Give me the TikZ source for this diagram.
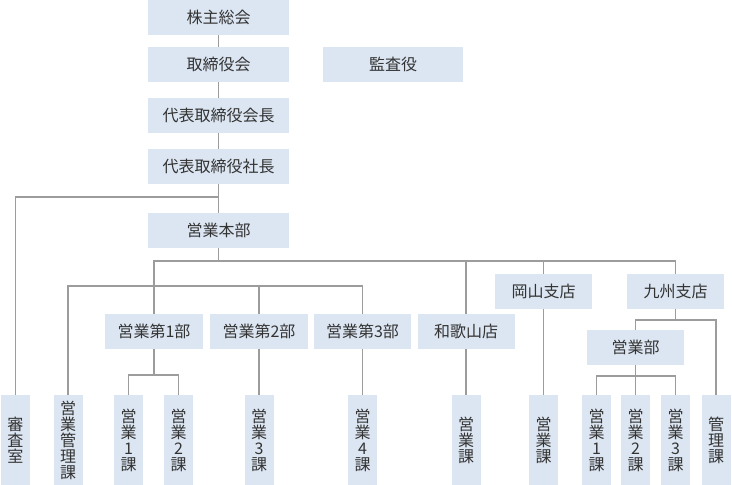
\documentclass[tikz,border=0pt]{standalone}
\usepackage{fontspec}
\setmainfont{Noto Sans CJK JP}
\definecolor{boxfill}{HTML}{DCE6F2}
\definecolor{linegray}{HTML}{9C9C9C}
\definecolor{txt}{HTML}{333333}
\begin{document}
\begin{tikzpicture}[x=1pt,y=-1pt,
  box/.style={fill=boxfill,inner sep=0pt,text=txt,font=\fontsize{16}{16}\selectfont,align=center},
  hbox/.style={box,minimum width=#1,minimum height=35pt},
  vbox/.style={box,minimum width=29pt,minimum height=90pt,font=\fontsize{16}{16}\selectfont},
  conn/.style={draw=linegray,line width=1.1pt}]
\useasboundingbox (0,0) rectangle (732,485);
% top column
\node[hbox=141pt] (kabu) at (218.5,17.5) {株主総会};
\node[hbox=141pt] (tori) at (218.5,64.5) {取締役会};
\node[hbox=140pt] (kansa) at (393,64.5) {監査役};
\node[hbox=141pt] (kaicho) at (218.5,115.5) {代表取締役会長};
\node[hbox=141pt] (shacho) at (218.5,166.5) {代表取締役社長};
\node[hbox=141pt] (honbu) at (218.5,230.5) {営業本部};
% middle
\node[hbox=98pt] (eig1) at (154,331.5) {営業第1部};
\node[hbox=98pt] (eig2) at (259,331.5) {営業第2部};
\node[hbox=97pt] (eig3) at (362.5,331.5) {営業第3部};
\node[hbox=97pt] (waka) at (466,331.5) {和歌山店};
\node[hbox=97pt] (oka) at (543.5,291.5) {岡山支店};
\node[hbox=97pt] (kyu) at (675.5,291.5) {九州支店};
\node[hbox=97pt] (kbu) at (635.5,347.5) {営業部};
% bottom
\node[vbox] (shinsa) at (15.5,440) {審\\査\\室};
\node[vbox] (kanri1) at (68,440) {営\\業\\管\\理\\課};
\node[vbox] (a1) at (128.5,440) {営\\業\\1\\課};
\node[vbox] (a2) at (178.5,440) {営\\業\\2\\課};
\node[vbox] (a3) at (259,440) {営\\業\\3\\課};
\node[vbox] (a4) at (362.5,440) {営\\業\\4\\課};
\node[vbox] (wk) at (466,440) {営\\業\\課};
\node[vbox] (ok) at (543.5,440) {営\\業\\課};
\node[vbox] (q1) at (596.5,440) {営\\業\\1\\課};
\node[vbox] (q2) at (635.5,440) {営\\業\\2\\課};
\node[vbox] (q3) at (675.5,440) {営\\業\\3\\課};
\node[vbox] (qk) at (716,440) {管\\理\\課};
% junction coordinates
\coordinate (j1) at (218.5,197);
\coordinate (bus) at (218.5,261);
\coordinate (sub) at (154,286);
\coordinate (ja) at (154,375);
\coordinate (jk) at (675.5,320);
\coordinate (jb) at (635.5,376);
% connectors
\draw[conn] (kabu) -- (tori);
\draw[conn] (tori) -- (kaicho);
\draw[conn] (kaicho) -- (shacho);
\draw[conn] (shacho) -- (honbu);
\draw[conn] (j1) -| (shinsa.north);
\draw[conn] (honbu.south) -- (bus);
\draw[conn] (eig1.north) |- (bus) -| (kyu.north);
\draw[conn] (waka.north) -- (waka |- bus);
\draw[conn] (oka.north) -- (oka |- bus);
\draw[conn] (kanri1.north) |- (sub) -| (eig3.north);
\draw[conn] (eig2.north) -- (eig2 |- sub);
\draw[conn] (eig1.south) -- (ja);
\draw[conn] (a1.north) |- (ja) -| (a2.north);
\draw[conn] (eig2.south) -- (a3.north);
\draw[conn] (eig3.south) -- (a4.north);
\draw[conn] (waka.south) -- (wk.north);
\draw[conn] (oka.south) -- (ok.north);
\draw[conn] (kyu.south) -- (jk);
\draw[conn] (kbu.north) |- (jk) -| (qk.north);
\draw[conn] (kbu.south) -- (jb);
\draw[conn] (q1.north) |- (jb) -| (q3.north);
\draw[conn] (jb) -- (q2.north);
\end{tikzpicture}
\end{document}
